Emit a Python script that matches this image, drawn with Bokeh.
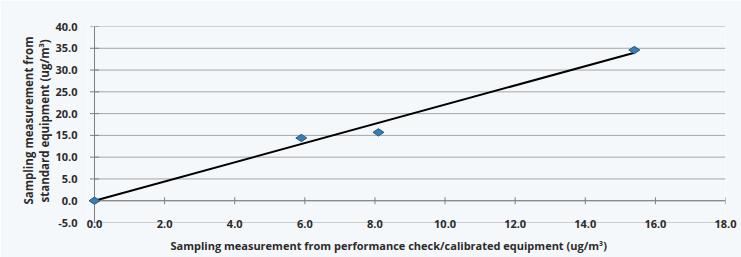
import numpy as np
from bokeh.plotting import figure
from bokeh.models import Range1d, FixedTicker, Title, NumeralTickFormatter
from bokeh.embed import file_html
from bokeh.resources import INLINE

# ---- data ----
x_check = [0.0, 5.9, 8.1, 15.4]        # performance check / calibrated equipment (ug/m3)
y_standard = [0.0, 14.4, 15.7, 34.6]   # standard equipment (ug/m3)
x_ticks = [0.0, 2.0, 4.0, 6.0, 8.0, 10.0, 12.0, 14.0, 16.0, 18.0]
y_ticks = [-5.0, 0.0, 5.0, 10.0, 15.0, 20.0, 25.0, 30.0, 35.0, 40.0]
x_title = "Sampling measurement from performance check/calibrated equipment (ug/m\u00b3)"
y_title_1 = "Sampling measurement from"
y_title_2 = "standard equipment (ug/m\u00b3)"

# linear trend line through the origin (least squares)
xa = np.array(x_check)
ya = np.array(y_standard)
slope = float((xa * ya).sum() / (xa * xa).sum())
trend_x = [0.0, float(xa.max())]
trend_y = [slope * v for v in trend_x]

BG = "#f5f8fb"
FONT = "Open Sans"
TXT = "#2b2b2b"
AX = "#7f7f7f"

x_lo, x_hi = x_ticks[0], x_ticks[-1]
pad = 0.2  # a little room left of the vertical axis so the first marker is not clipped

p = figure(width=741, height=257, output_backend="svg", toolbar_location=None,
           x_range=Range1d(x_lo - pad, x_hi), y_range=Range1d(y_ticks[0], y_ticks[-1]),
           min_border_left=87, min_border_right=16, min_border_top=26, min_border_bottom=35,
           background_fill_color=BG, border_fill_color=BG)
p.outline_line_color = None
p.xgrid.grid_line_color = None
p.ygrid.grid_line_color = None

# y axis: labels only, line and ticks drawn at x = 0 below
ya_ = p.yaxis[0]
ya_.ticker = FixedTicker(ticks=y_ticks)
ya_.formatter = NumeralTickFormatter(format="0.0")
ya_.axis_line_color = None
ya_.major_tick_line_color = None
ya_.minor_tick_line_color = None
ya_.major_label_standoff = 4
ya_.major_label_text_font = FONT
ya_.major_label_text_font_size = "11px"
ya_.major_label_text_font_style = "bold"
ya_.major_label_text_color = TXT

# x axis: labels at the bottom
xa_ = p.xaxis[0]
xa_.ticker = FixedTicker(ticks=x_ticks)
xa_.formatter = NumeralTickFormatter(format="0.0")
xa_.axis_line_color = None
xa_.major_tick_line_color = None
xa_.minor_tick_line_color = None
xa_.major_label_standoff = -9
xa_.major_label_text_font = FONT
xa_.major_label_text_font_size = "11px"
xa_.major_label_text_font_style = "bold"
xa_.major_label_text_color = TXT

# horizontal gridlines from the axis to the right edge
n_y = len(y_ticks)
p.segment(x0=[x_lo] * n_y, y0=y_ticks, x1=[x_hi] * n_y, y1=y_ticks,
          line_color="#a4a4a4", line_width=1)
# axis lines (x axis crosses at y = 0, y axis at x = 0)
p.segment(x0=[x_lo], y0=[0.0], x1=[x_hi], y1=[0.0], line_color=AX, line_width=1)
p.segment(x0=[x_lo], y0=[y_ticks[0]], x1=[x_lo], y1=[y_ticks[-1]], line_color=AX, line_width=1)
# cross tick marks
p.scatter(x_ticks[1:], [0.0] * (len(x_ticks) - 1), marker="dash", angle=np.pi / 2,
          size=7, line_color=AX, line_width=1)
p.scatter([x_lo] * n_y, y_ticks, marker="dash", size=9, line_color=AX, line_width=1)

# trend line and data points
p.line(trend_x, trend_y, line_color="black", line_width=2)
p.scatter(x_check, y_standard, marker="diamond", angle=np.pi / 2, size=11,
          fill_color="#3a7db3", line_color="#215d88", line_width=1)

# titles
p.add_layout(Title(text=x_title, align="left", offset=83, standoff=10,
                   text_font=FONT, text_font_size="11px", text_font_style="bold",
                   text_color=TXT), "below")
p.add_layout(Title(text=y_title_2, align="left", offset=20, standoff=2,
                   text_font=FONT, text_font_size="11.5px", text_font_style="bold",
                   text_color=TXT), "left")
p.add_layout(Title(text=y_title_1, align="left", offset=18, standoff=-4,
                   text_font=FONT, text_font_size="11.5px", text_font_style="bold",
                   text_color=TXT), "left")

open("out.html", "w").write(file_html(p, INLINE))
